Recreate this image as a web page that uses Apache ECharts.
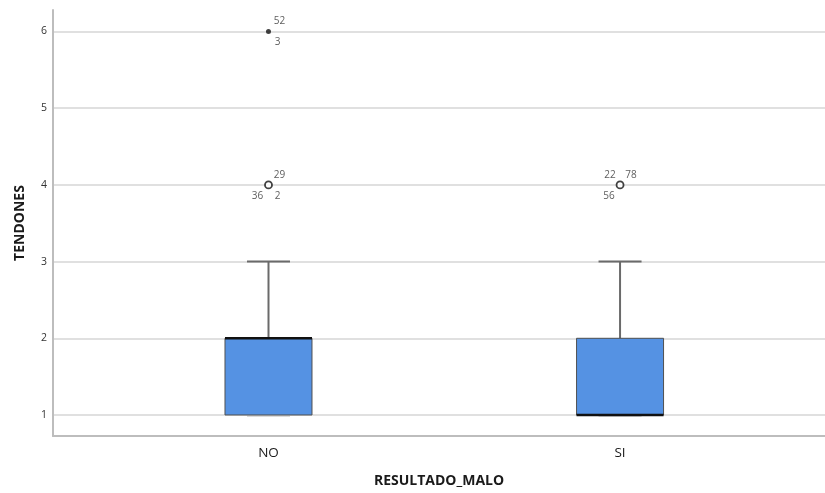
<!DOCTYPE html>
<html><head><meta charset="utf-8">
<script src="https://cdn.jsdelivr.net/npm/echarts@6/dist/echarts.min.js"></script>
<style>html,body{margin:0;padding:0;background:#fff}#c{width:825px;height:493px}</style>
</head><body><div id="c"></div>
<script>
const categories = ['NO', 'SI'];
// [min, Q1, median, Q3, max]
const boxNO = [1, 1, 2, 2, 3];
const boxSI = [1, 1, 1, 2, 3];
const yTicks = [1, 2, 3, 4, 5, 6];
// outliers: [categoryIndex, value]
const outliersMild = [[0, 4], [1, 4]];
const outliersExtreme = [[0, 6]];
// case labels: [categoryIndex, value, text, side]
const caseLabels = [
  [0, 6, '52', 'tr'], [0, 6, '3', 'br'],
  [0, 4, '29', 'tr'], [0, 4, '36', 'bl'], [0, 4, '2', 'br'],
  [1, 4, '22', 'tl'], [1, 4, '78', 'tr'], [1, 4, '56', 'bl']
];
const xLabel = 'RESULTADO_MALO';
const yLabel = 'TENDONES';

const boxes = [boxNO, boxSI].map((b, i) => [i].concat(b));
const offs = { tr: [11, -10], br: [9, 11], tl: [-10, -10], bl: [-11, 11] };

const chart = echarts.init(document.getElementById('c'), null, { renderer: 'canvas' });
chart.setOption({
  animation: false,
  grid: { left: 53, right: 0, top: 10, bottom: 57 },
  xAxis: {
    type: 'value', min: -0.613, max: 1.583,
    name: xLabel, nameLocation: 'middle', nameGap: 38,
    nameTextStyle: { fontFamily: 'Open Sans', fontWeight: 'bold', fontSize: 14, color: '#1a1a1a' },
    axisLine: { show: true, onZero: false, lineStyle: { color: '#bdbdbd', width: 2 } },
    axisTick: { show: false },
    splitLine: { show: false },
    axisLabel: {
      customValues: [0, 1], margin: 10,
      formatter: v => categories[Math.round(v)] || '',
      fontFamily: 'Open Sans', fontSize: 13.5, color: '#1a1a1a'
    }
  },
  yAxis: {
    type: 'value', min: 0.726, max: 6.28,
    name: yLabel, nameLocation: 'middle', nameGap: 26,
    nameTextStyle: { fontFamily: 'Open Sans', fontWeight: 'bold', fontSize: 14, color: '#1a1a1a' },
    axisLine: { show: true, onZero: false, lineStyle: { color: '#bdbdbd', width: 2 } },
    axisTick: { show: false, customValues: yTicks },
    splitLine: { show: true, lineStyle: { color: '#d6d6d6', width: 1.5 } },
    axisLabel: { customValues: yTicks, margin: 6, fontFamily: 'Open Sans', fontSize: 10.5, color: '#333' }
  },
  series: [
    {
      type: 'custom',
      data: boxes,
      encode: { x: 0, y: [1, 2, 3, 4, 5] },
      z: 3,
      renderItem: function (params, api) {
        const cx = api.coord([api.value(0), 0])[0];
        const y = k => api.coord([0, api.value(k)])[1];
        const yMin = y(1), yQ1 = y(2), yMed = y(3), yQ3 = y(4), yMax = y(5);
        const hw = 43.5, cw = 21.5;
        const ws = { stroke: '#6a6a6a', lineWidth: 2 };
        return {
          type: 'group',
          children: [
            { type: 'line', shape: { x1: cx, y1: yQ3, x2: cx, y2: yMax }, style: ws },
            { type: 'line', shape: { x1: cx - cw, y1: yMax, x2: cx + cw, y2: yMax }, style: ws },
            { type: 'line', shape: { x1: cx, y1: yQ1, x2: cx, y2: yMin }, style: ws },
            { type: 'line', shape: { x1: cx - cw, y1: yMin + 1, x2: cx + cw, y2: yMin + 1 }, style: { stroke: '#cfcfcf', lineWidth: 1.5 } },
            { type: 'rect', shape: { x: cx - hw, y: yQ3, width: hw * 2, height: yQ1 - yQ3 },
              style: { fill: '#5592e3', stroke: '#505050', lineWidth: 1 } },
            { type: 'line', shape: { x1: cx - hw, y1: yMed, x2: cx + hw, y2: yMed }, style: { stroke: '#111', lineWidth: 2.5 } }
          ]
        };
      }
    },
    {
      type: 'scatter', data: outliersMild, symbol: 'circle', symbolSize: 7, z: 4,
      itemStyle: { color: '#fff', borderColor: '#111', borderWidth: 1.8 }
    },
    {
      type: 'scatter', data: outliersExtreme, symbol: 'circle', symbolSize: 5, z: 4,
      itemStyle: { color: '#111' }
    },
    {
      type: 'scatter', symbolSize: 0, z: 5, silent: true,
      data: caseLabels.map(l => ({
        value: [l[0], l[1]],
        label: { show: true, position: 'inside', formatter: l[2], offset: offs[l[3]],
          fontFamily: 'Open Sans', fontSize: 10, color: '#333' }
      }))
    }
  ]
});
</script></body></html>
